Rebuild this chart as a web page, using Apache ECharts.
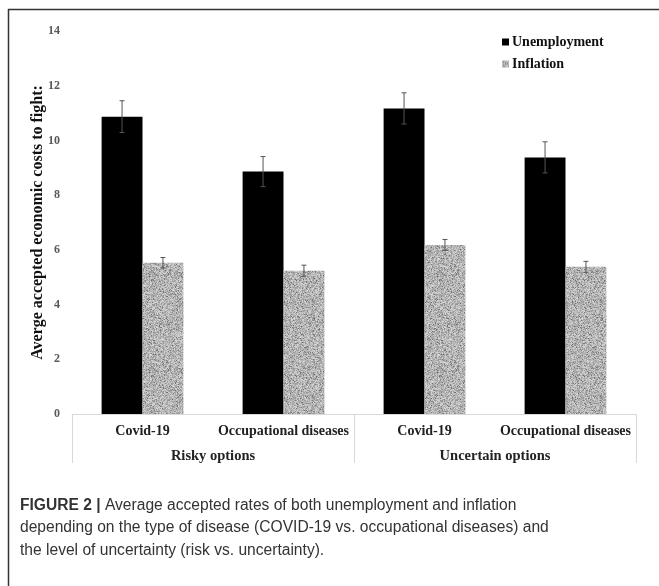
<!DOCTYPE html>
<html>
<head>
<meta charset="utf-8">
<script src="https://cdn.jsdelivr.net/npm/echarts@6/dist/echarts.min.js"></script>
<style>
html,body{margin:0;padding:0;background:#fff;}
#c{width:659px;height:586px;}
</style>
</head>
<body>
<div id="c"></div>
<script>
const categories = ['Covid-19', 'Occupational diseases', 'Covid-19', 'Occupational diseases'];
const groups = ['Risky options', 'Uncertain options'];
const unemployment = [10.87, 8.86, 11.17, 9.38];
const unemploymentErr = [0.58, 0.55, 0.57, 0.57];
const inflation = [5.53, 5.24, 6.18, 5.38];
const inflationErr = [0.19, 0.2, 0.2, 0.2];
const yTicks = [0, 2, 4, 6, 8, 10, 12, 14];

// speckled texture (deterministic hash of pixel position, style only)
function hash2(x, y) {
  let h = Math.imul(x, 374761393) + Math.imul(y, 668265263);
  h = Math.imul(h ^ (h >>> 13), 1274126177);
  h ^= h >>> 16;
  return ((h >>> 0) % 10007) / 10007;
}
function makeTexture() {
  const s = 96;
  const cv = document.createElement('canvas');
  cv.width = s; cv.height = s;
  const ctx = cv.getContext('2d');
  for (let y = 0; y < s; y++) {
    for (let x = 0; x < s; x++) {
      const r = hash2(x + 17, y + 91);
      let v;
      if (r < 0.07) v = 110 + r * 300;
      else v = 148 + (r - 0.07) * 72;
      v = Math.round(v);
      ctx.fillStyle = 'rgb(' + v + ',' + v + ',' + v + ')';
      ctx.fillRect(x, y, 1, 1);
    }
  }
  return cv;
}
const tex = makeTexture();
const grayPattern = { image: tex, repeat: 'repeat' };

const chart = echarts.init(document.getElementById('c'), null, { renderer: 'canvas' });
const serif = '"Liberation Serif", "Times New Roman", serif';
const CAT_GAP = 0.42;

function errRender(side) {
  return function (params, api) {
    const x = api.value(0);
    const lo = api.coord([x, api.value(1)]);
    const hi = api.coord([x, api.value(2)]);
    const cw = api.size([1, 0])[0];
    const bw = cw * (1 - CAT_GAP) / 2;
    const cx = lo[0] + side * bw / 2;
    const cap = 2.5;
    const st = { stroke: '#555', lineWidth: 1 };
    return {
      type: 'group',
      children: [
        { type: 'line', shape: { x1: cx, y1: lo[1], x2: cx, y2: hi[1] }, style: st },
        { type: 'line', shape: { x1: cx - cap, y1: lo[1], x2: cx + cap, y2: lo[1] }, style: st },
        { type: 'line', shape: { x1: cx - cap, y1: hi[1], x2: cx + cap, y2: hi[1] }, style: st }
      ]
    };
  };
}

const option = {
  animation: false,
  backgroundColor: '#fff',
  grid: { left: 72, right: 23, top: 31, bottom: 172 },
  legend: {
    orient: 'vertical',
    left: 497,
    top: 30,
    itemWidth: 7,
    itemHeight: 7,
    itemGap: 8,
    icon: 'rect',
    data: ['Unemployment', 'Inflation'],
    textStyle: { fontFamily: serif, fontWeight: 'bold', fontSize: 14, color: '#111', padding: [0, 0, 0, -2] }
  },
  xAxis: [
    {
      type: 'category',
      data: categories,
      position: 'bottom',
      axisLine: { show: false },
      axisTick: { show: false },
      axisLabel: { interval: 0, margin: 10, fontFamily: serif, fontWeight: 'bold', fontSize: 14, color: '#222' }
    },
    {
      type: 'category',
      data: groups,
      position: 'bottom',
      axisLine: { show: true, lineStyle: { color: '#d9d9d9', width: 1 } },
      axisTick: { show: true, length: 49, lineStyle: { color: '#d9d9d9' } },
      axisLabel: { interval: 0, margin: 35, fontFamily: serif, fontWeight: 'bold', fontSize: 14.5, color: '#222' }
    }
  ],
  yAxis: {
    type: 'value',
    min: yTicks[0],
    max: yTicks[yTicks.length - 1],
    interval: 2,
    axisLine: { show: false },
    axisTick: { show: false },
    splitLine: { show: false },
    axisLabel: { margin: 12, fontFamily: serif, fontWeight: 'bold', fontSize: 12, color: '#595959' },
    name: 'Averge accepted economic costs to fight:',
    nameLocation: 'middle',
    nameGap: 26,
    nameMoveOverlap: false,
    nameTextStyle: { fontFamily: serif, fontWeight: 'bold', fontSize: 16, color: '#111' }
  },
  series: [
    {
      name: 'Unemployment',
      type: 'bar',
      xAxisIndex: 0,
      data: unemployment,
      barGap: '0%',
      barCategoryGap: (CAT_GAP * 100) + '%',
      itemStyle: { color: '#000' }
    },
    {
      name: 'Inflation',
      type: 'bar',
      xAxisIndex: 0,
      data: inflation,
      barGap: '0%',
      barCategoryGap: (CAT_GAP * 100) + '%',
      itemStyle: { color: grayPattern }
    },
    {
      type: 'custom',
      xAxisIndex: 0,
      renderItem: errRender(-1),
      encode: { x: 0, y: [1, 2] },
      data: unemployment.map((v, i) => [i, v - unemploymentErr[i], v + unemploymentErr[i]]),
      z: 10
    },
    {
      type: 'custom',
      xAxisIndex: 0,
      renderItem: errRender(1),
      encode: { x: 0, y: [1, 2] },
      data: inflation.map((v, i) => [i, v - inflationErr[i], v + inflationErr[i]]),
      z: 10
    }
  ],
  graphic: [
    { type: 'line', shape: { x1: 8, y1: 9.5, x2: 659, y2: 9.5 }, style: { stroke: '#333', lineWidth: 1.5 } },
    { type: 'line', shape: { x1: 8.5, y1: 9, x2: 8.5, y2: 586 }, style: { stroke: '#333', lineWidth: 1.5 } },
    {
      type: 'text',
      left: 20,
      top: 494,
      style: {
        text: '{b|FIGURE 2 |} Average accepted rates of both unemployment and inflation\ndepending on the type of disease (COVID-19 vs. occupational diseases) and\nthe level of uncertainty (risk vs. uncertainty).',
        fontFamily: '"Liberation Sans", Arial, sans-serif',
        fontSize: 15.6,
        lineHeight: 22.5,
        fill: '#333',
        rich: {
          b: { fontFamily: '"Liberation Sans", Arial, sans-serif', fontWeight: 'bold', fontSize: 15.6, fill: '#333', lineHeight: 22.5 }
        }
      }
    }
  ]
};
chart.setOption(option);
</script>
</body>
</html>
